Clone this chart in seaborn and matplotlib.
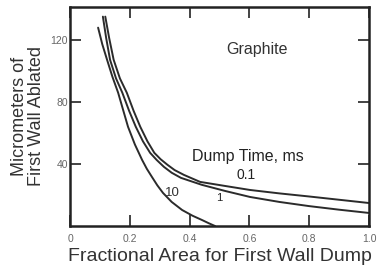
import pandas as pd
import seaborn as sns
import matplotlib
matplotlib.use("Agg")
import matplotlib.pyplot as plt

# values (area fraction vs micrometers ablated)
area_01 = [0.118, 0.131, 0.146, 0.167, 0.190, 0.213, 0.235, 0.259, 0.282, 0.303, 0.326, 0.35,
           0.381, 0.435, 0.518, 0.602, 0.70, 0.80, 0.90, 1.0]
abl_01 = [134.8, 121.0, 107.0, 95.0, 85.8, 74.0, 63.9, 54.5, 47.1, 43.0, 39.4, 36.0,
          32.9, 28.4, 25.8, 23.2, 21.0, 19.0, 16.9, 14.8]

area_1 = [0.110, 0.121, 0.134, 0.154, 0.175, 0.198, 0.220, 0.244, 0.268, 0.29, 0.314, 0.34,
          0.371, 0.441, 0.520, 0.602, 0.70, 0.80, 0.90, 1.0]
abl_1 = [134.8, 121.0, 107.0, 95.0, 85.8, 74.0, 63.9, 54.5, 47.1, 42.5, 38.1, 34.3,
         31.0, 26.5, 22.5, 18.7, 15.5, 12.8, 10.5, 8.4]

area_10 = [0.094, 0.108, 0.124, 0.142, 0.161, 0.178, 0.194, 0.217, 0.241, 0.257, 0.274,
           0.292, 0.311, 0.34, 0.375, 0.41, 0.441, 0.465, 0.485]
abl_10 = [127.7, 117.0, 107.0, 96.0, 85.8, 74.5, 63.9, 52.5, 42.6, 36.8, 31.6,
          26.2, 21.3, 15.5, 10.3, 6.6, 3.9, 1.7, 0.0]

x_ticks = [0, 0.2, 0.4, 0.6, 0.8, 1.0]
x_labels = ["0", "0.2", "0.4", "0.6", "0.8", "1.0"]
y_ticks = [40, 80, 120]
y_labels = ["40", "80", "120"]

df = pd.concat([
    pd.DataFrame({"area": area_01, "ablated": abl_01, "dump": "0.1"}),
    pd.DataFrame({"area": area_1, "ablated": abl_1, "dump": "1"}),
    pd.DataFrame({"area": area_10, "ablated": abl_10, "dump": "10"}),
])

sns.set_style("ticks")
plt.rcParams["font.family"] = ["Liberation Sans", "DejaVu Sans"]

fig = plt.figure(figsize=(3.77, 2.70), dpi=100)
ax = fig.add_axes([70 / 377, 44 / 270, 299 / 377, 219 / 270])

line_col = "#2b2b2b"
sns.lineplot(data=df, x="area", y="ablated", hue="dump",
             palette=[line_col] * 3, linewidth=1.4, legend=False, ax=ax)

ax.set_xlim(0, 1.0)
ax.set_ylim(0, 141)
ax.set_xticks(x_ticks)
ax.set_xticklabels(x_labels)
ax.set_yticks(y_ticks)
ax.set_yticklabels(y_labels)
ax.tick_params(direction="in", top=True, right=True, length=8, width=1.2,
               labelsize=7.5, labelcolor="#666666", color="#222222")
ax.tick_params(axis="x", pad=6)
ax.tick_params(axis="y", pad=1.5)
for sp in ax.spines.values():
    sp.set_linewidth(1.8)
    sp.set_color("#222222")

ax.set_xlabel("Fractional Area for First Wall Dump", fontsize=14, color="#333333")
ax.xaxis.set_label_coords(0.5, -0.1)
ax.set_ylabel("Micrometers of\nFirst Wall Ablated", fontsize=13, color="#333333",
              linespacing=1.0)
ax.yaxis.set_label_coords(-0.085, 0.5)

ax.text(0.625, 113.5, "Graphite", fontsize=11.5, color="#333333", ha="center", va="center")
ax.text(0.595, 44.5, "Dump Time, ms", fontsize=11.5, color="#222222", ha="center", va="center")
ax.text(0.589, 32.9, "0.1", fontsize=10, color="#222222", ha="center", va="center")
ax.text(0.498, 18, "1", fontsize=8, color="#222222", ha="center", va="center")
ax.text(0.341, 21.3, "10", fontsize=9.5, color="#333333", ha="center", va="center")

fig.savefig("out.png", dpi=100)
